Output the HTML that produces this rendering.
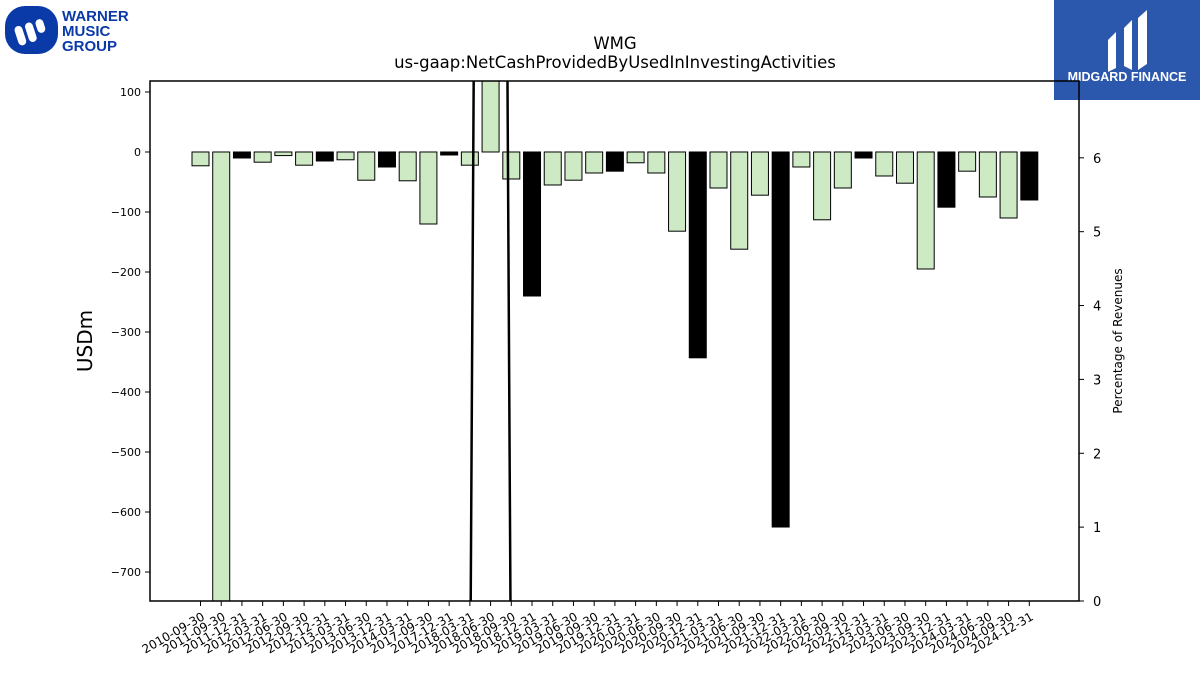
<!DOCTYPE html>
<html><head><meta charset="utf-8"><style>
body{margin:0;background:#fff;font-family:"Liberation Sans","DejaVu Sans",sans-serif}
#wrap{position:relative;width:1200px;height:675px;overflow:hidden}
</style></head><body>
<div id="wrap">
<svg id="chart" width="1200" height="675" font-family="DejaVu Sans, Liberation Sans, sans-serif">
  <g>
    <rect x="5" y="6" width="53" height="48" rx="20" fill="#0a3aa8"/>
    <g fill="#fff" transform="translate(31.5,31) rotate(-18)">
      <rect x="-16" y="-9" width="8" height="20" rx="4"/>
      <rect x="-5" y="-9" width="8" height="20" rx="4"/>
      <rect x="6" y="-9" width="8" height="14" rx="4"/>
    </g>
    <text x="62" y="21" font-size="15" font-weight="bold" fill="#0a3aa8" font-family="Liberation Sans, sans-serif">WARNER</text>
    <text x="62" y="36" font-size="15" font-weight="bold" fill="#0a3aa8" font-family="Liberation Sans, sans-serif">MUSIC</text>
    <text x="62" y="51" font-size="15" font-weight="bold" fill="#0a3aa8" font-family="Liberation Sans, sans-serif">GROUP</text>
  </g>
  <g>
    <rect x="1054" y="0" width="146" height="100" fill="#2b58ad"/>
    <path d="M1108 40 L1116 32 L1116 68 L1108 72 Z" fill="#fff"/>
    <path d="M1124 28 L1132 20 L1132 70 L1124 66 Z" fill="#fff"/>
    <path d="M1138 18 L1147 10 L1147 64 L1138 70 Z" fill="#fff"/>
    <text x="1127" y="81" font-size="12.5" font-weight="bold" fill="#fff" text-anchor="middle" font-family="Liberation Sans, sans-serif">MIDGARD FINANCE</text>
  </g>
  <text x="615" y="49" font-size="16.5" text-anchor="middle">WMG</text>
  <text x="615" y="68" font-size="16.5" text-anchor="middle">us-gaap:NetCashProvidedByUsedInInvestingActivities</text>
  <text transform="translate(92,341) rotate(-90)" font-size="20" text-anchor="middle">USDm</text>
  <text transform="translate(1122,341) rotate(-90)" font-size="12" text-anchor="middle">Percentage of Revenues</text>
  <defs><clipPath id="pc"><rect x="150" y="81" width="929" height="520"/></clipPath></defs>
  <g id="bars" clip-path="url(#pc)"></g>
  <g id="line" clip-path="url(#pc)"></g>
  <g id="axes"></g>
</svg>
</div>
<script>
const categories=["2010-09-30","2011-09-30","2011-12-31","2012-03-31","2012-06-30","2012-09-30","2012-12-31","2013-03-31","2013-06-30","2013-12-31","2014-03-31","2017-09-30","2017-12-31","2018-03-31","2018-06-30","2018-09-30","2018-12-31","2019-03-31","2019-06-30","2019-09-30","2019-12-31","2020-03-31","2020-06-30","2020-09-30","2020-12-31","2021-03-31","2021-06-30","2021-09-30","2021-12-31","2022-03-31","2022-06-30","2022-09-30","2022-12-31","2023-03-31","2023-06-30","2023-09-30","2023-12-31","2024-03-31","2024-06-30","2024-09-30","2024-12-31"];
const cashValues=[-23,-800,-10,-17,-6,-22,-15,-13,-47,-25,-48,-120,-5,-22,200,-45,-240,-55,-47,-35,-32,-18,-35,-132,-343,-60,-162,-72,-625,-25,-113,-60,-10,-40,-52,-195,-92,-32,-75,-110,-80];
const barIsBlack=[0,0,1,0,0,0,1,0,0,1,0,0,1,0,0,0,1,0,0,0,1,0,0,0,1,0,0,0,1,0,0,0,1,0,0,0,1,0,0,0,1];
const pctValues=[null,null,null,null,null,null,null,null,null,null,null,null,null,-2,47,-2,null,null,null,null,null,null,null,null,null,null,null,null,null,null,null,null,null,null,null,null,null,null,null,null,null];
const leftTicks=[100,0,-100,-200,-300,-400,-500,-600,-700];
const rightTicks=[0,1,2,3,4,5,6];

const NS="http://www.w3.org/2000/svg";
const L=150,R=1079,T=81,B=601;
const yMin=-748.3,yMax=118.3, y2Min=0,y2Max=7.04;
const y=v=>B-(v-yMin)/(yMax-yMin)*(B-T);
const y2=v=>B-(v-y2Min)/(y2Max-y2Min)*(B-T);
const step=20.72, x0=200.5;
const x=i=>x0+i*step;
const bw=17;
function mk(tag,attrs,parent){const e=document.createElementNS(NS,tag);for(const k in attrs)e.setAttribute(k,attrs[k]);parent.appendChild(e);return e;}
const gb=document.getElementById('bars'),gl=document.getElementById('line'),ga=document.getElementById('axes');
cashValues.forEach((v,i)=>{
  const y1=y(Math.max(v,0)),yb=y(Math.min(v,0));
  const r=mk('rect',{x:x(i)-bw/2,y:y1,width:bw,height:Math.max(yb-y1,0.5),fill:barIsBlack[i]?'#000':'#cdeac4',stroke:'#000','stroke-width':1},gb);
  
  
});
let d='',pen=false;
pctValues.forEach((v,i)=>{if(v===null){pen=false;return;}d+=(pen?'L':'M')+x(i)+' '+y2(v)+' ';pen=true;});
const pl=mk('path',{d:d,fill:'none',stroke:'#000','stroke-width':2.5},gl);


const frame=mk('rect',{x:L,y:T,width:R-L,height:B-T,fill:'none',stroke:'#000','stroke-width':1.5},ga);


leftTicks.forEach(t=>{
  const yy=y(t);
  mk('line',{x1:L-5,x2:L,y1:yy,y2:yy,stroke:'#000','stroke-width':1},ga);
  const tx=mk('text',{x:L-9,y:yy+4,'font-size':11,'text-anchor':'end'},ga);
  tx.textContent=t<0?'\u2212'+(-t):String(t);
  
  
});
rightTicks.forEach(t=>{
  const yy=y2(t);
  mk('line',{x1:R,x2:R+5,y1:yy,y2:yy,stroke:'#000','stroke-width':1},ga);
  const tx=mk('text',{x:R+14,y:yy+5,'font-size':13},ga);
  tx.textContent=String(t);
  
  
});
categories.forEach((c,i)=>{
  const xx=x(i);
  mk('line',{x1:xx,x2:xx,y1:B,y2:B+5,stroke:'#000','stroke-width':1},ga);
  const tx=mk('text',{x:xx+5,y:B+18,'font-size':12,'text-anchor':'end',transform:'rotate(-30 '+(xx+5)+' '+(B+18)+')'},ga);
  tx.textContent=c;
  
  
});
</script>
</body></html>
